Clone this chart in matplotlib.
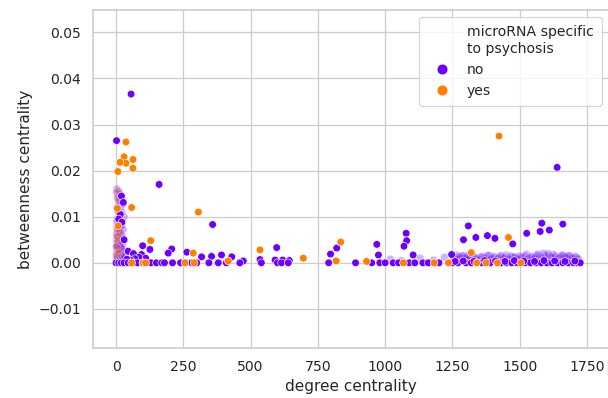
import matplotlib
matplotlib.use("Agg")
import matplotlib.pyplot as plt
from matplotlib.lines import Line2D
import pandas as pd
import seaborn as sns

# (degree centrality, betweenness centrality)

# microRNAs not specific to psychosis
no_scattered = [
    (56, 0.0366), (2, 0.0265), (160, 0.0170), (359, 0.0083), (1639, 0.0207),
    (99, 0.0037), (126, 0.0029), (207, 0.0030), (194, 0.0021), (263, 0.0023),
    (318, 0.0013), (355, 0.0014), (392, 0.0017), (430, 0.0013), (597, 0.0033),
    (797, 0.0019), (820, 0.0032), (969, 0.0040), (975, 0.0017), (1078, 0.0064),
    (1080, 0.0048), (1070, 0.0036), (1309, 0.0080), (1291, 0.0050),
    (1337, 0.0055), (1380, 0.0059), (1408, 0.0053), (1474, 0.0041),
    (1526, 0.0064), (1582, 0.0086), (1576, 0.0068), (1610, 0.0071),
    (1660, 0.0084), (473, 0.0004), (535, 0.0007), (591, 0.0006), (619, 0.0006),
    (644, 0.0005), (1104, 0.0017), (1247, 0.0018),
    (20, 0.0145), (27, 0.0131), (16, 0.0105), (10, 0.0095), (22, 0.0088),
    (30, 0.0050), (45, 0.0025), (65, 0.0020), (95, 0.0018), (110, 0.0010),
    (85, 0.0012), (70, 0.0009), (55, 0.0006), (40, 0.0008),
]
no_zero = [
    (0, 0.0), (10, 0.0), (20, 0.0), (30, 0.0), (45, 0.0), (62, 0.0), (80, 0.0),
    (100, 0.0), (130, 0.0), (150, 0.0), (170, 0.0), (180, 0.0), (210, 0.0),
    (240, 0.0), (260, 0.0), (281, 0.0), (300, 0.0), (345, 0.0), (380, 0.0),
    (410, 0.0), (460, 0.0), (540, 0.0), (600, 0.0), (615, 0.0), (640, 0.0),
    (790, 0.0), (890, 0.0), (950, 0.0), (980, 0.0), (1000, 0.0), (1030, 0.0),
    (1050, 0.0), (1090, 0.0), (1110, 0.0), (1140, 0.0), (1160, 0.0),
    (1200, 0.0), (1250, 0.0), (1270, 0.0), (1300, 0.0), (1320, 0.0),
    (1360, 0.0), (1390, 0.0), (1430, 0.0), (1450, 0.0), (1470, 0.0),
    (1490, 0.0), (1520, 0.0), (1540, 0.0), (1560, 0.0), (1580, 0.0),
    (1600, 0.0), (1620, 0.0), (1640, 0.0), (1660, 0.0), (1680, 0.0),
    (1700, 0.0), (1715, 0.0), (1725, 0.0),
    (1260, 0.0003), (1290, 0.0004), (1330, 0.0003), (1370, 0.0005),
    (1410, 0.0004), (1445, 0.0003), (1480, 0.0005), (1515, 0.0004),
    (1555, 0.0003), (1590, 0.0005), (1630, 0.0004), (1668, 0.0003),
    (1705, 0.0004),
]
# heavily overlapping points (they blur into a pale smear in the picture)
no_dense = [
    (3, 0.0160), (8, 0.0155), (14, 0.0150), (25, 0.0138), (10, 0.0132),
    (28, 0.0128), (18, 0.0122), (5, 0.0115), (22, 0.0110), (12, 0.0105),
    (30, 0.0100), (6, 0.0095), (16, 0.0092), (24, 0.0088), (9, 0.0085),
    (20, 0.0080), (3, 0.0078), (14, 0.0075), (27, 0.0072), (7, 0.0068),
    (18, 0.0065), (2, 0.0062), (11, 0.0060), (23, 0.0058), (5, 0.0055),
    (15, 0.0052), (8, 0.0048), (20, 0.0046), (3, 0.0044), (12, 0.0042),
    (25, 0.0040), (6, 0.0038), (17, 0.0036), (1, 0.0034), (10, 0.0032),
    (22, 0.0030), (4, 0.0028), (14, 0.0026), (28, 0.0025), (7, 0.0023),
    (19, 0.0021), (2, 0.0019), (11, 0.0017), (33, 0.0016), (5, 0.0014),
    (16, 0.0012), (25, 0.0011), (8, 0.0009), (3, 0.0006), (13, 0.0005),
    (2, 0.0152), (6, 0.0142), (12, 0.0136), (17, 0.0128), (4, 0.0120),
    (9, 0.0112), (14, 0.0098), (2, 0.0090), (19, 0.0082), (8, 0.0074),
    (13, 0.0066), (4, 0.0058), (21, 0.0054), (10, 0.0046), (15, 0.0040),
    (3, 0.0036), (20, 0.0033), (8, 0.0030), (12, 0.0022), (1, 0.0015),
    (18, 0.0010), (28, 0.0007), (35, 0.0012), (22, 0.0015),
    (1255, 0.0006), (1268, 0.0012), (1282, 0.0009), (1296, 0.0015),
    (1310, 0.0007), (1322, 0.0018), (1335, 0.0010), (1348, 0.0005),
    (1362, 0.0014), (1375, 0.0008), (1388, 0.0016), (1400, 0.0011),
    (1412, 0.0006), (1425, 0.0013), (1438, 0.0009), (1450, 0.0017),
    (1462, 0.0007), (1475, 0.0012), (1488, 0.0010), (1500, 0.0015),
    (1512, 0.0006), (1525, 0.0019), (1538, 0.0011), (1550, 0.0008),
    (1562, 0.0016), (1575, 0.0013), (1588, 0.0021), (1600, 0.0009),
    (1612, 0.0014), (1625, 0.0018), (1638, 0.0007), (1650, 0.0012),
    (1662, 0.0016), (1675, 0.0010), (1688, 0.0015), (1700, 0.0008),
    (1712, 0.0011), (1020, 0.0008), (1060, 0.0005), (1130, 0.0010),
    (1180, 0.0006), (1220, 0.0012),
    (1252, 0.0014), (1258, 0.0010), (1265, 0.0017), (1272, 0.0008),
    (1278, 0.0013), (1286, 0.0016), (1293, 0.0011), (1300, 0.0009),
    (1306, 0.0014), (1315, 0.0012), (1328, 0.0015), (1341, 0.0009),
    (1355, 0.0013), (1368, 0.0011), (1381, 0.0016), (1394, 0.0009),
    (1406, 0.0014), (1418, 0.0010), (1431, 0.0016), (1444, 0.0012),
    (1456, 0.0009), (1468, 0.0015), (1482, 0.0013), (1494, 0.0008),
    (1506, 0.0012), (1519, 0.0015), (1531, 0.0009), (1544, 0.0014),
    (1556, 0.0011), (1568, 0.0019), (1581, 0.0010), (1594, 0.0016),
    (1606, 0.0020), (1619, 0.0012), (1632, 0.0015), (1644, 0.0010),
    (1656, 0.0017), (1669, 0.0013), (1681, 0.0016), (1694, 0.0011),
    (1706, 0.0014), (1718, 0.0009),
]

# microRNAs specific to psychosis
yes_points = [
    (37, 0.0262), (30, 0.0230), (37, 0.0216), (15, 0.0218), (63, 0.0224),
    (63, 0.0205), (7, 0.0198), (58, 0.0120), (5, 0.0118), (129, 0.0048),
    (306, 0.0110), (287, 0.0021), (535, 0.0028), (696, 0.0010), (835, 0.0045),
    (818, 0.0004), (931, 0.0003), (1458, 0.0055), (1423, 0.0275),
    (8, 0.0080), (1320, 0.0022), (417, 0.0004),
    (58, 0.0), (100, 0.0), (110, 0.0), (256, 0.0), (290, 0.0), (1068, 0.0),
    (1182, 0.0), (1235, 0.0), (1340, 0.0), (1375, 0.0), (1417, 0.0),
    (1504, 0.0),
]
yes_dense = [
    (10, 0.0155), (15, 0.0150), (20, 0.0102), (3, 0.0072), (12, 0.0065),
    (6, 0.0057), (18, 0.0045), (2, 0.0035), (9, 0.0025), (4, 0.0012),
    (4, 0.0140), (13, 0.0090), (1, 0.0050), (7, 0.0020),
]

purple = "#6a00ff"
orange = "#ff7f00"
cols = ["degree centrality", "betweenness centrality", "specific"]


def frame(no_pts, yes_pts):
    rows = [(d, b, "no") for d, b in no_pts] + [(d, b, "yes") for d, b in yes_pts]
    return pd.DataFrame(rows, columns=cols)


df_dense = frame(no_dense, yes_dense)
df_main = frame(no_scattered + no_zero, yes_points)

sns.set_theme(context="notebook", style="whitegrid")
dpi = 91.5
fig = plt.figure(figsize=(608 / dpi, 398 / dpi), dpi=dpi)
ax = fig.add_axes([93 / 608, 1 - 348 / 398, 516 / 608, 338 / 398])

pal = {"no": purple, "yes": orange}
sns.scatterplot(data=df_dense, x=cols[0], y=cols[1], hue="specific",
                palette=pal, alpha=0.3, legend=False, ax=ax)
sns.scatterplot(data=df_main, x=cols[0], y=cols[1], hue="specific",
                palette=pal, legend=False, ax=ax)

ax.set_xlim(-85.5, 1831.7)
ax.set_ylim(-0.01848, 0.05484)
ax.set_xticks([0, 250, 500, 750, 1000, 1250, 1500, 1750])
ax.set_yticks([-0.01, 0.0, 0.01, 0.02, 0.03, 0.04, 0.05])

handles = [
    Line2D([], [], linestyle="none", marker=None),
    Line2D([], [], linestyle="none", marker="o", color=purple, markersize=8.5,
           markeredgecolor="w", markeredgewidth=0.5),
    Line2D([], [], linestyle="none", marker="o", color=orange, markersize=8.5,
           markeredgecolor="w", markeredgewidth=0.5),
]
labels = ["microRNA specific\nto psychosis", "no", "yes"]
ax.legend(handles, labels, loc="upper right", borderpad=0.6)

fig.savefig("out.png", dpi=dpi)
